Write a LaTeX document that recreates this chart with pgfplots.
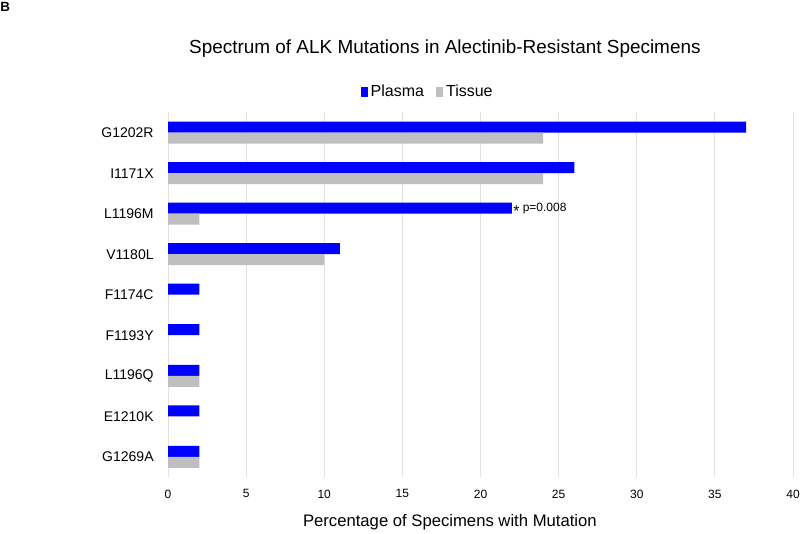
\documentclass[border=0pt]{standalone}
\usepackage{fontspec}
\setmainfont{Liberation Sans}
\usepackage{pgfplots}
\pgfplotsset{compat=1.18}
\definecolor{plasma}{RGB}{0,0,255}
\definecolor{tissue}{RGB}{191,191,191}
\definecolor{gridc}{RGB}{225,225,225}
\begin{document}
\begin{tikzpicture}
\useasboundingbox (0pt,0pt) rectangle (600pt,-399.75pt);
\node[anchor=north west,inner sep=0pt,font=\bfseries\fontsize{10}{11}\selectfont] at (0pt,-1.5pt) {B};
\begin{axis}[
  at={(126pt,-357.75pt)}, anchor=south west,
  scale only axis,
  width=468.75pt, height=273.4pt,
  xbar, bar width=8.25pt,
  xmin=0, xmax=40,
  ymin=-0.5, ymax=8.5,
  xtick={0,5,...,40},
  ytick={0,...,8},
  yticklabels={G1269A,E1210K,L1196Q,F1193Y,F1174C,V1180L,L1196M,I1171X,G1202R},
  axis line style={draw=none},
  tick style={draw=none},
  xmajorgrids, grid style={gridc, line width=0.75pt},
  /pgf/number format/assume math mode=true,
  xticklabel style={font=\fontsize{9}{10}\selectfont, yshift=-6pt},
  yticklabel style={font=\fontsize{10.5}{12}\selectfont, anchor=east, xshift=-3pt},
  title={Spectrum of ALK Mutations in Alectinib-Resistant Specimens},
  title style={at={(axis description cs:0.443,1.153)}, anchor=center, font=\fontsize{14.2}{16}\selectfont},
  xlabel={Percentage of Specimens with Mutation},
  xlabel style={at={(axis description cs:0.451,-0.123)}, anchor=center, font=\fontsize{12.5}{14}\selectfont},
  legend style={at={(axis description cs:0.416,1.056)}, anchor=center, draw=none, fill=none,
    legend columns=2, font=\fontsize{12}{14}\selectfont,
    /tikz/every even column/.append style={column sep=7pt}},
  legend image code/.code={\fill[#1] (0pt,-3.6pt) rectangle (5.5pt,3.6pt);},
  clip=false,
]
\addplot[fill=plasma, draw=none, bar shift=4.125pt] coordinates {
(2,0) (2,1) (2,2) (2,3) (2,4) (11,5) (22,6) (26,7) (37,8)};
\addlegendentry{Plasma}
\addplot[fill=tissue, draw=none, bar shift=-4.125pt] coordinates {
(2,0) (0,1) (2,2) (0,3) (0,4) (10,5) (2,6) (24,7) (24,8)};
\addlegendentry{Tissue}
\node[anchor=west, inner sep=1pt, font=\fontsize{9}{10}\selectfont] at ([yshift=4.125pt]axis cs:22,6) {\textasteriskcentered\ p=0.008};
\end{axis}
\end{tikzpicture}
\end{document}
